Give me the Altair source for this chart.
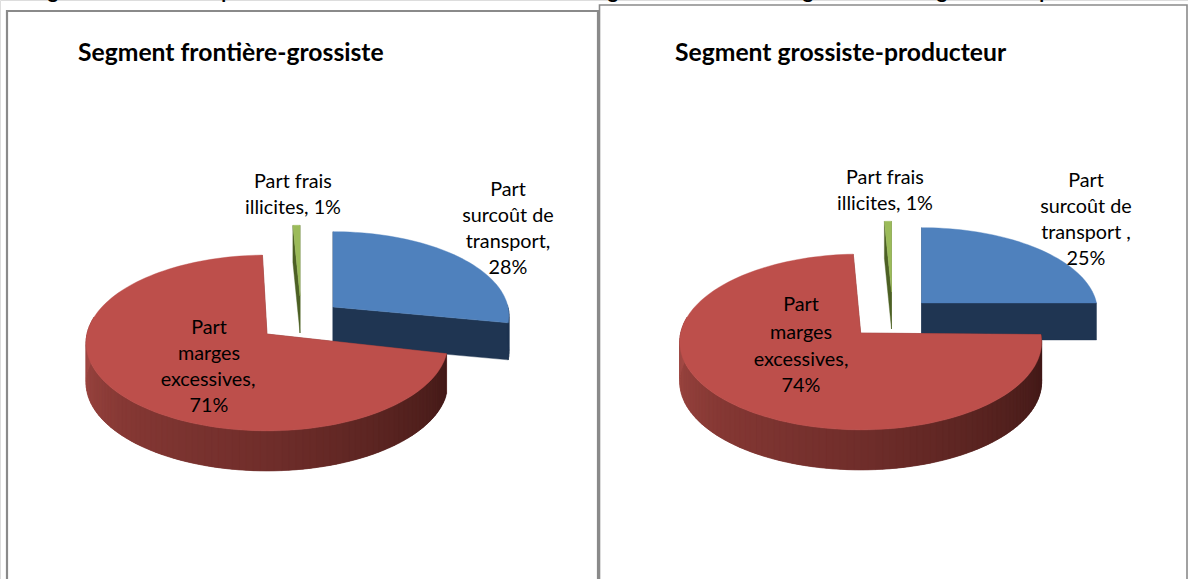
import math
import numpy as np
import altair as alt

# Canvas
WIDTH, HEIGHT = 1188, 579
FONT = "Lato"

# Shares shown by each pie, in percent
series_names = ["Part surcoût de transport", "Part frais illicites", "Part marges excessives"]
left_shares = [28, 1, 71]
right_shares = [25, 1, 74]

# Panel titles
panel_titles = ["Segment frontière-grossiste", "Segment grossiste-producteur"]
title_x = [78, 675]
title_y = [61, 61]

# Descenders of the heading line that runs off the top edge
heading_glyphs = ["g", "p", "g", "g", "g", "p"]
heading_x = [53, 227, 613, 808, 942, 1045]

# Panel frames: left, right, top, stroke width
frame_left = [7, 599.5]
frame_right = [598, 1187]
frame_top = [11, 5]
frame_width = [2.2, 1.6]

# Data labels, one entry per text line
label_lines = [
    "Part frais", "illicites, 1%",
    "Part", "surcoût de", "transport,", "28%",
    "Part", "marges", "excessives,", "71%",
    "Part frais", "illicites, 1%",
    "Part", "surcoût de", "transport ,", "25%",
    "Part", "marges", "excessives,", "74%",
]
label_x = [293, 293, 508, 508, 508, 508, 209, 209, 208, 209,
           885, 885, 1086, 1086, 1086, 1086, 801, 801, 801, 801]
label_y = [182, 208, 190, 216, 242, 268, 328, 354, 380, 406,
           178, 204, 181, 207, 233, 259, 305, 333, 360, 386]

# Office-style slice colours
TOP_COLORS = {"blue": "#4f81bd", "green": "#9bbb59", "red": "#bd4f4b"}
WALL_COLORS = {"blue": "#1f3552", "green": "#4c6024", "red": "#7d3431"}
RED_RIM_ANGLES = [102, 135, 180, 225, 280]
RED_RIM_SHADES = [(0x42, 0x1a, 0x18), (0x55, 0x22, 0x1f), (0x70, 0x2e, 0x2b),
                  (0x85, 0x38, 0x34), (0xa6, 0x4c, 0x47)]

# Apparent foreshortening of the tilted disc
TILT = 0.102
DEPTHS = {"blue": 37, "green": 37, "red": 40}


def project(apex, rx, ry, degrees, drop=0.0):
    """Screen position of a rim point on a tilted disc with its centre at apex."""
    theta = math.radians(degrees)
    depth = 1 + TILT * math.cos(theta)
    return [round(apex[0] + rx * math.sin(theta) / depth, 2),
            round(apex[1] - ry * math.cos(theta) / depth + drop, 2)]


def polygon(ring, color):
    closed = ring + [ring[0]]
    return {"type": "Feature", "properties": {"color": color},
            "geometry": {"type": "Polygon", "coordinates": [closed]}}


def wedge(kind, start, share, apex, rx, ry):
    """Walls, rim and top face of one exploded slice, painted back to front."""
    end = start + share * 3.6
    drop = DEPTHS[kind]
    steps = [float(a) for a in np.linspace(start, end, max(4, int(share * 3.6 / 2)))]
    parts = []
    for edge in (start, end):
        a, b = project(apex, rx, ry, edge), project(apex, rx, ry, edge, drop)
        parts.append(polygon([list(apex), a, b, [apex[0], apex[1] + drop]], WALL_COLORS[kind]))
    visible = [a for a in steps if 88 <= a <= 282]
    # Each rim strip reaches under its neighbour so no seams show between them
    for i, a0 in enumerate(visible[:-1]):
        a1 = visible[min(i + 2, len(visible) - 1)]
        if kind == "red":
            mid = a0 + 1
            rgb = [int(np.interp(mid, RED_RIM_ANGLES, [s[j] for s in RED_RIM_SHADES])) for j in range(3)]
            shade = "#%02x%02x%02x" % tuple(rgb)
        else:
            shade = WALL_COLORS[kind]
        between = [float(a) for a in visible[i:min(i + 3, len(visible))]]
        upper = [project(apex, rx, ry, a) for a in between]
        lower = [project(apex, rx, ry, a, drop) for a in reversed(between)]
        parts.append(polygon(upper + lower, shade))
    top = [list(apex)] + [project(apex, rx, ry, a) for a in steps]
    parts.append(polygon(top, TOP_COLORS[kind]))
    return parts


def pie(shares, blue_apex, green_apex, red_apex, red_end):
    transport, illicit, margin = shares
    features = []
    features += wedge("green", -illicit * 3.6, illicit, green_apex, 125, 78)
    features += wedge("blue", 0, transport, blue_apex, 175, 83)
    features += wedge("red", red_end - margin * 3.6, margin, red_apex, 180, 87)
    return features


slices = (
    pie(left_shares, (333, 307), (300, 296), (267, 334), 358.4)
    + pie(right_shares, (921.5, 303), (891.5, 292), (860.7, 333), 357.4)
)

frames = alt.Chart(alt.Data(values=[
    {"x": a, "x2": b, "y": t, "y2": HEIGHT + 20, "w": w}
    for a, b, t, w in zip(frame_left, frame_right, frame_top, frame_width)
]))

x_scale = alt.Scale(domain=[0, WIDTH])
y_scale = alt.Scale(domain=[0, HEIGHT], reverse=True)
X = alt.X("x:Q", scale=x_scale, axis=None)
Y = alt.Y("y:Q", scale=y_scale, axis=None)

frame_layer = frames.mark_rect(fill="white", stroke="#8a8a8a").encode(
    x=X, x2="x2:Q", y=Y, y2="y2:Q",
    strokeWidth=alt.StrokeWidth("w:Q", scale=None),
)

slice_layer = alt.Chart(alt.Data(values=slices)).mark_geoshape(strokeWidth=0.4).encode(
    fill=alt.Fill("properties.color:N", scale=None),
    stroke=alt.Stroke("properties.color:N", scale=None),
).project(type="identity", scale=1, translate=[0, 0])

heading_layer = alt.Chart(alt.Data(values=[
    {"t": g, "x": x, "y": -2} for g, x in zip(heading_glyphs, heading_x)
])).mark_text(font=FONT, fontSize=20, fontWeight="bold", color="black",
              baseline="alphabetic", align="center").encode(x=X, y=Y, text="t:N")

title_layer = alt.Chart(alt.Data(values=[
    {"t": t, "x": x, "y": y} for t, x, y in zip(panel_titles, title_x, title_y)
])).mark_text(font=FONT, fontSize=24.7, fontWeight="bold", color="black",
              baseline="alphabetic", align="left").encode(x=X, y=Y, text="t:N")

label_layer = alt.Chart(alt.Data(values=[
    {"t": t, "x": x, "y": y} for t, x, y in zip(label_lines, label_x, label_y)
])).mark_text(font=FONT, fontSize=19.8, color="black",
              baseline="middle", align="center").encode(x=X, y=Y, text="t:N")

chart = (
    alt.layer(frame_layer, slice_layer, heading_layer, title_layer, label_layer)
    .properties(width=WIDTH, height=HEIGHT, padding=0,
                autosize=alt.AutoSizeParams(type="none"))
    .configure_view(stroke=None)
    .configure(background="white")
)

chart.save("out.html", embed_options={"renderer": "svg", "actions": False})
